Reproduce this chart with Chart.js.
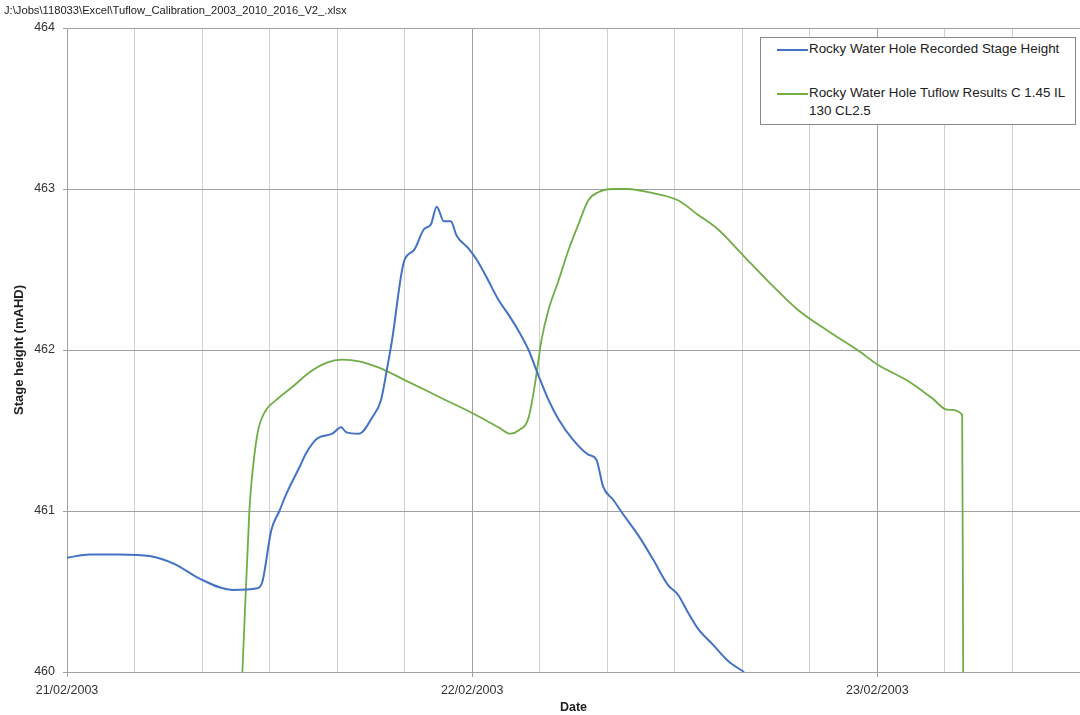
<!DOCTYPE html>
<html>
  <head>
    <meta charset="UTF-8" />
    <title>Rocky Water Hole Stage Height</title>
    <script src="https://cdn.jsdelivr.net/npm/chart.js"></script>
    <style>
      html, body {
        margin: 0;
        padding: 0;
        background: #fff;
        overflow: hidden;
      }
      .wrap {
        position: relative;
        width: 1086px;
        height: 715px;
      }
      .file-title {
        position: absolute;
        left: 4px;
        top: 4px;
        font: 11.2px "Liberation Sans", Arial, sans-serif;
        color: #222;
        z-index: 2;
      }
      .legend {
        position: absolute;
        left: 760px;
        top: 37px;
        width: 314px;
        height: 86px;
        border: 1px solid #888;
        background: #fff;
        font: 13.4px "Liberation Sans", Arial, sans-serif;
        color: #222;
        z-index: 2;
      }
      .legend .item {
        position: absolute;
        left: 16px;
        display: flex;
        align-items: flex-start;
      }
      .legend .swatch {
        width: 31px;
        margin-top: 8px;
        margin-right: 1px;
        flex-shrink: 0;
      }
      .legend .txt {
        line-height: 18px;
        margin-top: -1px;
      }
    </style>
  </head>
  <body>
    <div class="wrap">
      <div class="file-title">J:\Jobs\118033\Excel\Tuflow_Calibration_2003_2010_2016_V2_.xlsx</div>
      <div class="legend">
        <div class="item" style="top: 3px">
          <div class="swatch" style="height: 2px; background: #4472c4"></div>
          <div class="txt">Rocky Water Hole Recorded Stage Height</div>
        </div>
        <div class="item" style="top: 47px">
          <div class="swatch" style="height: 2px; background: #70ad47"></div>
          <div class="txt">Rocky Water Hole Tuflow Results C 1.45 IL<br />130 CL2.5</div>
        </div>
      </div>
      <canvas id="chart" width="1086" height="715"></canvas>
    </div>
    <script>
      // hours after 21/02/2003 00:00
      const recordedHours = [
        0, 1.36, 3.13, 4.9, 6.38, 7.85, 9.8, 11.28, 11.57, 12.1, 12.58, 13.05,
        13.76, 14.17, 14.82, 15.71, 16.24, 16.53, 17.3, 18.07, 18.6, 18.95,
        19.25, 19.96, 20.55, 21.14, 21.55, 21.9, 22.32, 22.73, 23.08, 23.79,
        24.27, 24.86, 25.56, 26.15, 26.74, 27.34, 27.93, 28.52, 29.11, 29.99,
        30.88, 31.35, 31.76, 32.35, 32.94, 33.83, 34.71, 35.6, 36.19, 36.78,
        37.37, 38.26, 39.14, 40.1,
      ];
      const recordedStage = [
        460.71, 460.73, 460.73, 460.72, 460.67, 460.58, 460.51, 460.52, 460.56,
        460.88, 461.0, 461.12, 461.27, 461.36, 461.45, 461.48, 461.52, 461.49,
        461.48, 461.58, 461.69, 461.88, 462.06, 462.55, 462.62, 462.75, 462.78,
        462.89, 462.8, 462.8, 462.71, 462.63, 462.56, 462.45, 462.31, 462.22,
        462.12, 462.0, 461.84, 461.69, 461.57, 461.44, 461.35, 461.32, 461.15,
        461.07, 460.98, 460.85, 460.7, 460.54, 460.48, 460.37, 460.27, 460.17,
        460.07, 460.0,
      ];
      const tuflowHours = [
        10.39, 10.8, 10.92, 11.28, 11.69, 12.4, 13.34, 14.35, 15.35, 16.3, 17.3,
        18.48, 20.07, 22.02, 23.97, 25.56, 26.27, 26.74, 27.34, 27.75, 28.1,
        28.52, 29.11, 29.7, 30.29, 30.88, 31.47, 32.35, 33.24, 34.42, 36.19,
        37.37, 38.55, 40.03, 41.5, 43.28, 45.05, 46.82, 48.0, 49.77, 51.25,
        52.13, 53.02, 53.08,
      ];
      const tuflowStage = [
        460.0, 461.0, 461.17, 461.48, 461.61, 461.69, 461.77, 461.86, 461.92,
        461.94, 461.93, 461.89, 461.81, 461.71, 461.61, 461.52, 461.48, 461.5,
        461.58, 461.81, 462.06, 462.25, 462.43, 462.62, 462.78, 462.93, 462.98,
        463.0, 463.0, 462.98, 462.93, 462.84, 462.75, 462.59, 462.43, 462.25,
        462.12, 462.0, 461.91, 461.81, 461.7, 461.63, 461.6, 460.0,
      ];
      const dayLabels = ["21/02/2003", "22/02/2003", "23/02/2003"];

      const toPoints = (xs, ys) => xs.map((x, i) => ({ x: x, y: ys[i] }));

      const ctx = document.getElementById("chart").getContext("2d");
      const tickFont = { family: "'Liberation Sans', Arial, sans-serif", size: 12.5 };

      new Chart(ctx, {
        type: "line",
        data: {
          datasets: [
            {
              label: "Rocky Water Hole Recorded Stage Height",
              data: toPoints(recordedHours, recordedStage),
              borderColor: "#4472c4",
              borderWidth: 2,
              pointRadius: 0,
              cubicInterpolationMode: "monotone",
            },
            {
              label: "Rocky Water Hole Tuflow Results C 1.45 IL 130 CL2.5",
              data: toPoints(tuflowHours, tuflowStage),
              borderColor: "#70ad47",
              borderWidth: 1.8,
              pointRadius: 0,
              cubicInterpolationMode: "monotone",
            },
          ],
        },
        options: {
          responsive: false,
          animation: false,
          layout: { padding: { top: 28, right: 0, left: 0, bottom: 0 } },
          plugins: {
            legend: { display: false },
            tooltip: { enabled: false },
          },
          scales: {
            x: {
              type: "linear",
              min: 0,
              max: 60,
              afterFit: (s) => {
                s.height = 43;
              },
              afterBuildTicks: (s) => {
                const t = [];
                for (let h = 0; h <= 60; h += 4) t.push({ value: h });
                s.ticks = t;
              },
              ticks: {
                autoSkip: false,
                maxRotation: 0,
                padding: 6,
                color: "#333",
                font: tickFont,
                callback: (v) => (v % 24 === 0 ? dayLabels[v / 24] : ""),
              },
              grid: {
                color: (c) => (c.tick && c.tick.value % 24 === 0 ? "#a0a0a0" : "#d0d0d0"),
                tickColor: (c) => (c.tick && c.tick.value % 24 === 0 ? "#a0a0a0" : "rgba(0,0,0,0)"),
                tickLength: 5,
                lineWidth: 1,
              },
              border: { color: "#a0a0a0" },
              title: {
                display: true,
                text: "Date",
                color: "#222",
                font: { family: "'Liberation Sans', Arial, sans-serif", size: 12.5, weight: "bold" },
                padding: { top: 0, bottom: 0 },
              },
            },
            y: {
              min: 460,
              max: 464,
              afterFit: (s) => {
                s.width = 67;
              },
              ticks: {
                stepSize: 1,
                padding: 8,
                color: "#333",
                font: tickFont,
              },
              grid: {
                color: "#a0a0a0",
                tickLength: 4,
                lineWidth: 1,
              },
              border: { color: "#a0a0a0" },
              title: {
                display: true,
                text: "Stage height (mAHD)",
                color: "#222",
                font: { family: "'Liberation Sans', Arial, sans-serif", size: 13, weight: "bold" },
                padding: { top: 12, bottom: 0 },
              },
            },
          },
        },
      });
    </script>
  </body>
</html>
